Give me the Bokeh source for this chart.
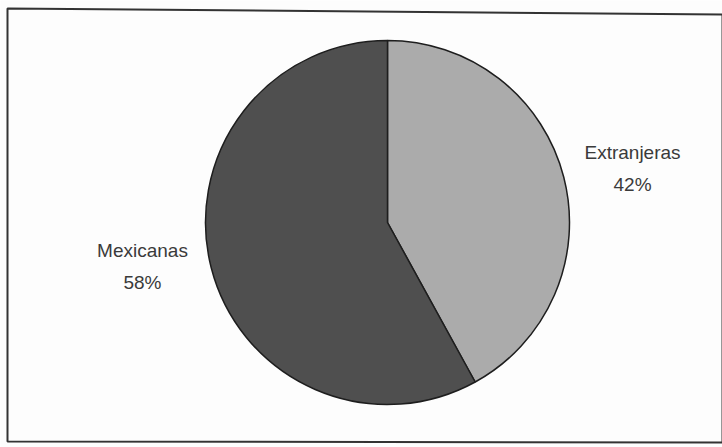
import math

from bokeh.core.properties import value
from bokeh.embed import file_html
from bokeh.models import ColumnDataSource, Range1d
from bokeh.plotting import figure
from bokeh.resources import INLINE

# Share of each origin (percent)
categories = ["Extranjeras", "Mexicanas"]
shares = [42, 58]
colors = ["#ababab", "#4f4f4f"]

W, H = 722, 447
cx, cy, r = 387, 225, 182
label_dist = 1.39
label_nudge_y = [-9, 19]  # vertical shift of each label block, px

p = figure(width=W, height=H, output_backend="svg", toolbar_location=None,
           x_range=Range1d(0, W), y_range=Range1d(0, H), min_border=0)
p.axis.visible = False
p.grid.visible = False
p.outline_line_color = None
p.background_fill_color = "#fdfdfd"
p.border_fill_color = "#fdfdfd"

# Chart frame
p.patch(x=[7, 722, 722, 7], y=[H - 8, H - 14, H - 442, H - 441],
        fill_color=None, line_color="#333333", line_width=2)

# Slices run clockwise from 12 o'clock
total = sum(shares)
starts, ends, lx, ly, texts = [], [], [], [], []
acc = 0.0
for cat, s, nudge in zip(categories, shares, label_nudge_y):
    a0 = math.pi / 2 - 2 * math.pi * acc / total
    a1 = math.pi / 2 - 2 * math.pi * (acc + s) / total
    starts.append(a0)
    ends.append(a1)
    mid = (a0 + a1) / 2
    lx.append(cx + label_dist * r * math.cos(mid))
    ly.append(cy + label_dist * r * math.sin(mid) + nudge)
    texts.append(f"{cat}\n{s}%")
    acc += s

src = ColumnDataSource(dict(start=starts, end=ends, color=colors,
                            lx=lx, ly=ly, text=texts))
p.wedge(x=cx, y=cy, radius=r, start_angle="start", end_angle="end",
        direction="clock", fill_color="color", line_color="#1e1e1e",
        line_width=1.5, source=src)

p.text(x="lx", y="ly", text="text", source=src, text_align="center",
       text_baseline="middle", text_font=value("Liberation Sans"),
       text_font_size="19px", text_color="#3a3a3a", text_line_height=1.5)

open("out.html", "w").write(file_html(p, INLINE))
